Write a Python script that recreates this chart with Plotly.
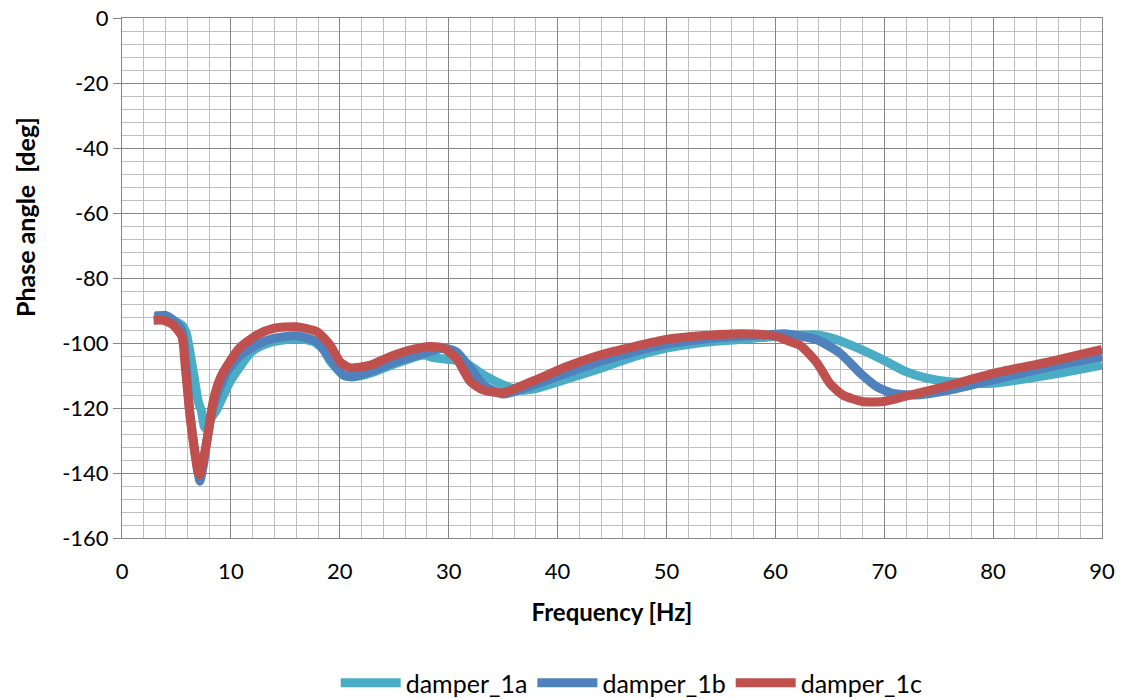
import plotly.graph_objects as go

# ---- data ----
f_1a = [3.0, 4.0, 4.7, 5.5, 5.9, 6.3, 6.6, 7.0, 7.3, 7.6, 8.0, 8.7, 9.9, 11.0, 11.8, 12.7, 13.9, 16.0,
        17.6, 18.5, 19.1, 20.3, 21.2, 22.8, 25.2, 27.7, 28.6, 29.8, 31.3, 33.2, 35.0, 36.5, 38.0, 40.0,
        43.9, 47.0, 50.0, 53.1, 56.1, 59.2, 63.8, 65.3, 66.9, 69.9, 72.0, 73.9, 76.0, 79.9, 85.2, 90.0]
v_1a = [-91.5, -91.8, -93.0, -94.5, -97.0, -104.0, -110.0, -118.0, -121.0, -126.0, -124.0, -120.5,
        -112.0, -106.5, -103.0, -101.0, -99.6, -98.6, -99.6, -102.0, -105.5, -109.8, -110.4, -109.3,
        -106.2, -103.7, -104.5, -105.0, -105.7, -109.8, -112.9, -114.5, -114.0, -112.0, -107.8, -104.2,
        -101.6, -99.9, -99.1, -98.2, -97.5, -98.6, -100.6, -105.2, -108.8, -110.8, -111.9, -112.4,
        -109.8, -106.8]

f_1b = [3.0, 4.0, 4.7, 5.5, 5.8, 6.25, 7.0, 7.15, 7.5, 7.8, 8.4, 9.6, 10.8, 12.4, 13.9, 16.0, 17.9,
        19.1, 20.3, 21.2, 22.8, 25.2, 27.7, 29.5, 30.7, 32.0, 33.2, 35.0, 37.8, 40.8, 43.9, 47.0, 50.0,
        53.1, 56.1, 59.2, 61.0, 63.8, 65.9, 67.8, 69.3, 70.8, 73.0, 76.0, 79.9, 85.2, 90.0]
v_1b = [-92.0, -91.5, -93.0, -96.0, -104.0, -122.0, -140.0, -142.5, -137.0, -130.0, -119.0, -109.0,
        -104.0, -100.5, -98.6, -97.8, -99.6, -104.7, -109.8, -110.4, -108.8, -105.7, -103.2, -101.6,
        -102.7, -107.8, -112.9, -115.7, -112.9, -109.3, -105.7, -102.7, -100.3, -98.9, -98.0, -97.5,
        -97.2, -99.0, -103.0, -109.3, -113.4, -115.5, -116.0, -114.5, -111.4, -107.3, -104.2]

f_1c = [2.9, 3.8, 4.7, 5.5, 5.8, 6.25, 6.7, 7.0, 7.15, 7.4, 7.8, 8.4, 9.0, 9.6, 10.8, 12.4, 13.9,
        16.0, 17.9, 19.1, 20.0, 20.9, 22.8, 24.6, 26.4, 28.3, 29.5, 30.7, 32.0, 33.2, 35.0, 37.8, 40.8,
        43.9, 47.0, 50.0, 53.1, 56.1, 59.2, 60.3, 61.3, 62.3, 63.8, 65.0, 66.2, 68.0, 69.9, 71.7, 76.0,
        79.9, 85.2, 90.0]
v_1c = [-93.0, -93.0, -94.5, -98.0, -107.0, -122.7, -134.0, -140.0, -140.5, -137.0, -130.0, -117.5,
        -111.0, -107.3, -101.5, -97.5, -95.5, -95.0, -96.5, -100.6, -105.7, -107.6, -106.8, -104.2,
        -102.2, -101.1, -101.6, -104.7, -111.9, -114.5, -115.3, -111.6, -107.3, -103.7, -101.1, -98.9,
        -97.8, -97.2, -97.5, -98.2, -99.5, -100.8, -106.0, -112.4, -116.0, -118.0, -118.0, -116.6,
        -113.0, -109.4, -105.7, -102.0]

series = [("damper_1a", f_1a, v_1a, "#4BACC6"),
          ("damper_1b", f_1b, v_1b, "#4F81BD"),
          ("damper_1c", f_1c, v_1c, "#C0504D")]

x_ticks = [0, 10, 20, 30, 40, 50, 60, 70, 80, 90]
y_ticks = [0, -20, -40, -60, -80, -100, -120, -140, -160]

FONT = "Lato"
MAJOR = "#868686"
MINOR = "#BFBFBF"

fig = go.Figure()
for name, fx, fy, col in series:
    fig.add_trace(go.Scatter(x=fx, y=fy, name=name, mode="lines",
                             line=dict(color=col, width=9, shape="spline", smoothing=0.6)))

fig.update_layout(
    width=1124, height=699,
    margin=dict(l=122, r=22, t=18, b=161, autoexpand=False),
    paper_bgcolor="white", plot_bgcolor="white",
    font=dict(family=FONT, size=22, color="black"),
    showlegend=True,
    legend=dict(orientation="h", x=0.562, xanchor="center", xref="container",
                y=1 - 683 / 699, yanchor="middle", yref="container",
                font=dict(family=FONT, size=25), itemwidth=60, tracegroupgap=0,
                bgcolor="rgba(0,0,0,0)"),
    xaxis=dict(range=[0, 90], tickvals=x_ticks, ticktext=[str(v) for v in x_ticks],
               showgrid=True, gridcolor=MAJOR, gridwidth=1,
               minor=dict(dtick=2, showgrid=True, gridcolor=MINOR, gridwidth=1),
               showline=True, linecolor=MAJOR, linewidth=1, mirror=True,
               ticks="", ticklabelstandoff=14, zeroline=False, automargin=False,
               tickfont=dict(family=FONT, size=22),
               title=dict(text="<b>Frequency [Hz]</b>", font=dict(family=FONT, size=24), standoff=20)),
    yaxis=dict(range=[-160, 0], tickvals=y_ticks, ticktext=[str(v) for v in y_ticks],
               showgrid=True, gridcolor=MAJOR, gridwidth=1,
               minor=dict(dtick=4, showgrid=True, gridcolor=MINOR, gridwidth=1),
               showline=True, linecolor=MAJOR, linewidth=1, mirror=True, automargin=False,
               ticks="outside", ticklen=8, tickcolor=MAJOR, zeroline=False,
               tickfont=dict(family=FONT, size=22)),
    annotations=[dict(text="<b>Phase angle  [deg]</b>", textangle=-90, xref="paper", yref="paper",
                      x=(25 - 122) / 980, y=(538 - 217) / 520, xanchor="center", yanchor="middle",
                      showarrow=False, font=dict(family=FONT, size=25))],
)

fig.write_html("out.html", config={"displayModeBar": False},
               post_script="document.body.style.margin='0px';")
